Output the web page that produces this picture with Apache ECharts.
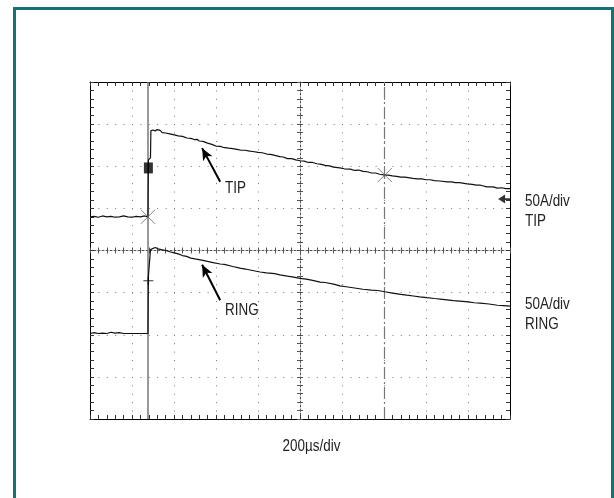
<!DOCTYPE html>
<html><head><meta charset="utf-8">
<script src="https://cdn.jsdelivr.net/npm/echarts@6/dist/echarts.min.js"></script>
<style>html,body{margin:0;padding:0;background:#fff}#c{width:614px;height:498px}</style>
</head><body><div id="c"></div>
<script>
// time in divisions (200us/div), centre = 0 ; amplitude in divisions (50A/div)
const tipTime = [-5.0,-4.9,-4.8,-4.7,-4.6,-4.5,-4.4,-4.3,-4.2,-4.1,-4.0,-3.9,-3.8,-3.7,-3.62,-3.61,-3.56,-3.55,-3.5,-3.45,-3.4,-3.33,-3.28,-3.2,-3.1,-3.02,-2.9,-2.8,-2.69,-2.6,-2.5,-2.45,-2.4,-2.31,-2.2,-2.1,-2.07,-2.0,-1.9,-1.83,-1.7,-1.6,-1.5,-1.4,-1.3,-1.2,-1.12,-1.0,-0.9,-0.79,-0.7,-0.6,-0.48,-0.4,-0.3,-0.2,-0.1,0.0,0.1,0.2,0.3,0.4,0.48,0.6,0.7,0.8,0.95,1.05,1.2,1.3,1.4,1.5,1.6,1.7,1.8,1.9,2.02,2.1,2.2,2.3,2.4,2.5,2.69,2.8,2.9,3.0,3.1,3.2,3.33,3.5,3.6,3.7,3.8,3.98,4.1,4.2,4.3,4.45,4.6,4.7,4.8,4.9,5.0];
const tipAmp  = [0.80,0.81,0.79,0.82,0.80,0.81,0.79,0.80,0.82,0.80,0.79,0.81,0.80,0.82,0.80,2.15,2.20,2.84,2.86,2.84,2.87,2.85,2.80,2.79,2.77,2.75,2.72,2.71,2.67,2.66,2.63,2.64,2.60,2.59,2.55,2.52,2.52,2.48,2.47,2.45,2.43,2.42,2.40,2.38,2.38,2.36,2.35,2.33,2.32,2.29,2.28,2.26,2.23,2.22,2.18,2.18,2.15,2.13,2.12,2.09,2.09,2.06,2.05,2.02,2.01,1.98,1.96,1.94,1.93,1.90,1.91,1.88,1.87,1.84,1.84,1.81,1.79,1.79,1.77,1.76,1.74,1.74,1.71,1.70,1.70,1.68,1.68,1.66,1.65,1.63,1.63,1.61,1.61,1.58,1.57,1.55,1.55,1.51,1.51,1.48,1.49,1.47,1.47];
const ringTime = [-5.0,-4.9,-4.8,-4.7,-4.6,-4.5,-4.4,-4.3,-4.2,-4.1,-4.0,-3.8,-3.62,-3.61,-3.57,-3.56,-3.52,-3.45,-3.38,-3.3,-3.2,-3.1,-3.02,-2.9,-2.8,-2.7,-2.6,-2.5,-2.34,-2.2,-2.1,-1.9,-1.8,-1.6,-1.43,-1.3,-1.1,-0.95,-0.8,-0.6,-0.48,-0.3,-0.15,0.0,0.15,0.3,0.48,0.6,0.8,0.95,1.1,1.3,1.5,1.7,1.85,2.02,2.2,2.4,2.54,2.7,2.85,3.02,3.2,3.4,3.65,3.8,4.0,4.15,4.29,4.5,4.7,4.85,5.0];
const ringAmp  = [-1.97,-1.95,-1.97,-1.96,-1.97,-1.94,-1.96,-1.95,-1.97,-1.97,-1.97,-1.97,-1.97,-0.62,-0.60,0.02,0.05,0.07,0.04,0.02,0.00,-0.03,-0.05,-0.08,-0.12,-0.14,-0.18,-0.20,-0.23,-0.26,-0.28,-0.32,-0.33,-0.38,-0.42,-0.44,-0.48,-0.51,-0.53,-0.55,-0.58,-0.61,-0.63,-0.66,-0.68,-0.71,-0.75,-0.76,-0.80,-0.84,-0.86,-0.89,-0.92,-0.94,-0.95,-0.98,-1.01,-1.04,-1.06,-1.08,-1.10,-1.12,-1.14,-1.16,-1.19,-1.20,-1.22,-1.24,-1.25,-1.27,-1.30,-1.31,-1.32];
const cursorTimes = [-3.62, 2.0];
const crossMarks = [[-3.62, 0.80], [2.02, 1.79]];
const tipGroundMark = [[-3.61, 1.96]];
const ringStepMark = [[-3.61, -0.72]];
const tipRefMark = [[4.86, 1.22]];
const tipArrow = [[-1.90, 1.63], [-2.33, 2.43]];
const ringArrow = [[-1.90, -1.18], [-2.33, -0.34]];
const xLabel = '200\u00b5s/div';
const sideLabels = [['50A/div', 'TIP'], ['50A/div', 'RING']];

const FONT = "'Liberation Sans Narrow','Liberation Sans',Arial,sans-serif";
const zip = (a, b) => a.map((v, i) => [v, b[i]]);

const G = {left: 90, top: 82, width: 420, height: 337};
const dotted = {color: '#777', width: 1, type: [1, 7.425]};
const dottedH = {color: '#777', width: 1, type: [1, 7.4]};
const centre = {color: '#555', width: 1, type: [2, 2]};
const frame = {color: '#000', width: 1};

function xa(pos, opts) {
  return Object.assign({
    type: 'value', min: -5, max: 5, interval: 1, position: pos,
    axisLabel: {show: false}, splitLine: {show: false}
  }, opts);
}
function ya(pos, opts) {
  return Object.assign({
    type: 'value', min: -4, max: 4, interval: 1, position: pos,
    axisLabel: {show: false}, splitLine: {show: false}
  }, opts);
}
function label(x, y, text, align) {
  return {type: 'text', x: x, y: y, scaleX: 0.84, silent: true,
    style: {x: 0, y: 0, text: text, font: '16px ' + FONT, fill: '#222',
      align: align || 'left', verticalAlign: 'middle'}};
}

const chart = echarts.init(document.getElementById('c'), null, {renderer: 'canvas'});
chart.setOption({
  animation: false,
  backgroundColor: '#fff',
  grid: Object.assign({containLabel: false}, G),
  xAxis: [
    xa('bottom', {axisLine: {show: true, onZero: true, lineStyle: centre},
      axisTick: {show: true, length: 3, lineStyle: {color: '#555'}},
      minorTick: {show: true, splitNumber: 5, length: 3, lineStyle: {color: '#555'}},
      splitLine: {show: true, lineStyle: dotted}}),
    xa('top', {axisLine: {show: false, onZero: true},
      axisTick: {show: true, length: 3, lineStyle: {color: '#555'}},
      minorTick: {show: true, splitNumber: 5, length: 3, lineStyle: {color: '#555'}}}),
    xa('bottom', {axisLine: {show: true, onZero: false, lineStyle: frame},
      axisTick: {show: true, inside: true, length: 4, lineStyle: {color: '#333'}},
      minorTick: {show: true, splitNumber: 5, length: 4, lineStyle: {color: '#333'}}}),
    xa('top', {axisLine: {show: true, onZero: false, lineStyle: frame},
      axisTick: {show: true, inside: true, length: 4, lineStyle: {color: '#333'}},
      minorTick: {show: true, splitNumber: 5, length: 4, lineStyle: {color: '#333'}}})
  ],
  yAxis: [
    ya('left', {axisLine: {show: true, onZero: true, lineStyle: centre},
      axisTick: {show: true, length: 3, lineStyle: {color: '#555'}},
      minorTick: {show: true, splitNumber: 5, length: 3, lineStyle: {color: '#555'}},
      splitLine: {show: true, lineStyle: dottedH}}),
    ya('right', {axisLine: {show: false, onZero: true},
      axisTick: {show: true, length: 3, lineStyle: {color: '#555'}},
      minorTick: {show: true, splitNumber: 5, length: 3, lineStyle: {color: '#555'}}}),
    ya('left', {axisLine: {show: true, onZero: false, lineStyle: frame},
      axisTick: {show: true, inside: true, length: 4, lineStyle: {color: '#333'}},
      minorTick: {show: true, splitNumber: 5, length: 4, lineStyle: {color: '#333'}}}),
    ya('right', {axisLine: {show: true, onZero: false, lineStyle: frame},
      axisTick: {show: true, inside: true, length: 4, lineStyle: {color: '#333'}},
      minorTick: {show: true, splitNumber: 5, length: 4, lineStyle: {color: '#333'}}})
  ],
  series: [
    {
      name: 'TIP', type: 'line', data: zip(tipTime, tipAmp), showSymbol: false,
      lineStyle: {color: '#111', width: 1.2}, z: 5,
      markLine: {
        silent: true, symbol: 'none', label: {show: false}, animation: false,
        data: [
          {xAxis: cursorTimes[0], lineStyle: {color: '#777', width: 1.5, type: 'solid'}},
          {xAxis: cursorTimes[1], lineStyle: {color: '#777', width: 1.2, type: [12, 3, 2, 3]}},
          [{coord: tipArrow[0], symbol: 'none', lineStyle: {color: '#000', width: 2, type: 'solid'}},
           {coord: tipArrow[1], symbol: 'arrow', symbolSize: [8, 12]}],
          [{coord: ringArrow[0], symbol: 'none', lineStyle: {color: '#000', width: 2, type: 'solid'}},
           {coord: ringArrow[1], symbol: 'arrow', symbolSize: [8, 12]}]
        ]
      }
    },
    {
      name: 'RING', type: 'line', data: zip(ringTime, ringAmp), showSymbol: false,
      lineStyle: {color: '#111', width: 1.2}, z: 5
    },
    {
      type: 'scatter', data: crossMarks, symbol: 'path://M0,0L10,10M10,0L0,10', symbolSize: 14,
      itemStyle: {color: 'none', borderColor: '#666', borderWidth: 1}, z: 6
    },
    {
      type: 'scatter', data: tipGroundMark, symbol: 'rect', symbolSize: [9, 11],
      itemStyle: {color: '#000'}, z: 6
    },
    {
      type: 'scatter', data: ringStepMark, symbol: 'path://M0,4L10,4M5,0L5,8', symbolSize: [10, 8],
      itemStyle: {color: 'none', borderColor: '#000', borderWidth: 1.2}, z: 6
    },
    {
      type: 'scatter', data: tipRefMark, symbol: 'path://M0,5L7,0L7,4L12,4L12,6L7,6L7,10Z', symbolSize: [12, 9],
      itemStyle: {color: '#000'}, z: 6
    }
  ],
  graphic: [
    {type: 'rect', shape: {x: 14.5, y: 8.5, width: 598, height: 500},
      style: {fill: 'none', stroke: '#167272', lineWidth: 3}, silent: true},
    label(225, 188.5, 'TIP'),
    label(225, 311, 'RING'),
    label(525, 202, sideLabels[0][0]),
    label(525, 222, sideLabels[0][1]),
    label(525, 304.5, sideLabels[1][0]),
    label(525, 324.5, sideLabels[1][1]),
    label(311.5, 447, xLabel, 'center')
  ]
});
</script></body></html>
